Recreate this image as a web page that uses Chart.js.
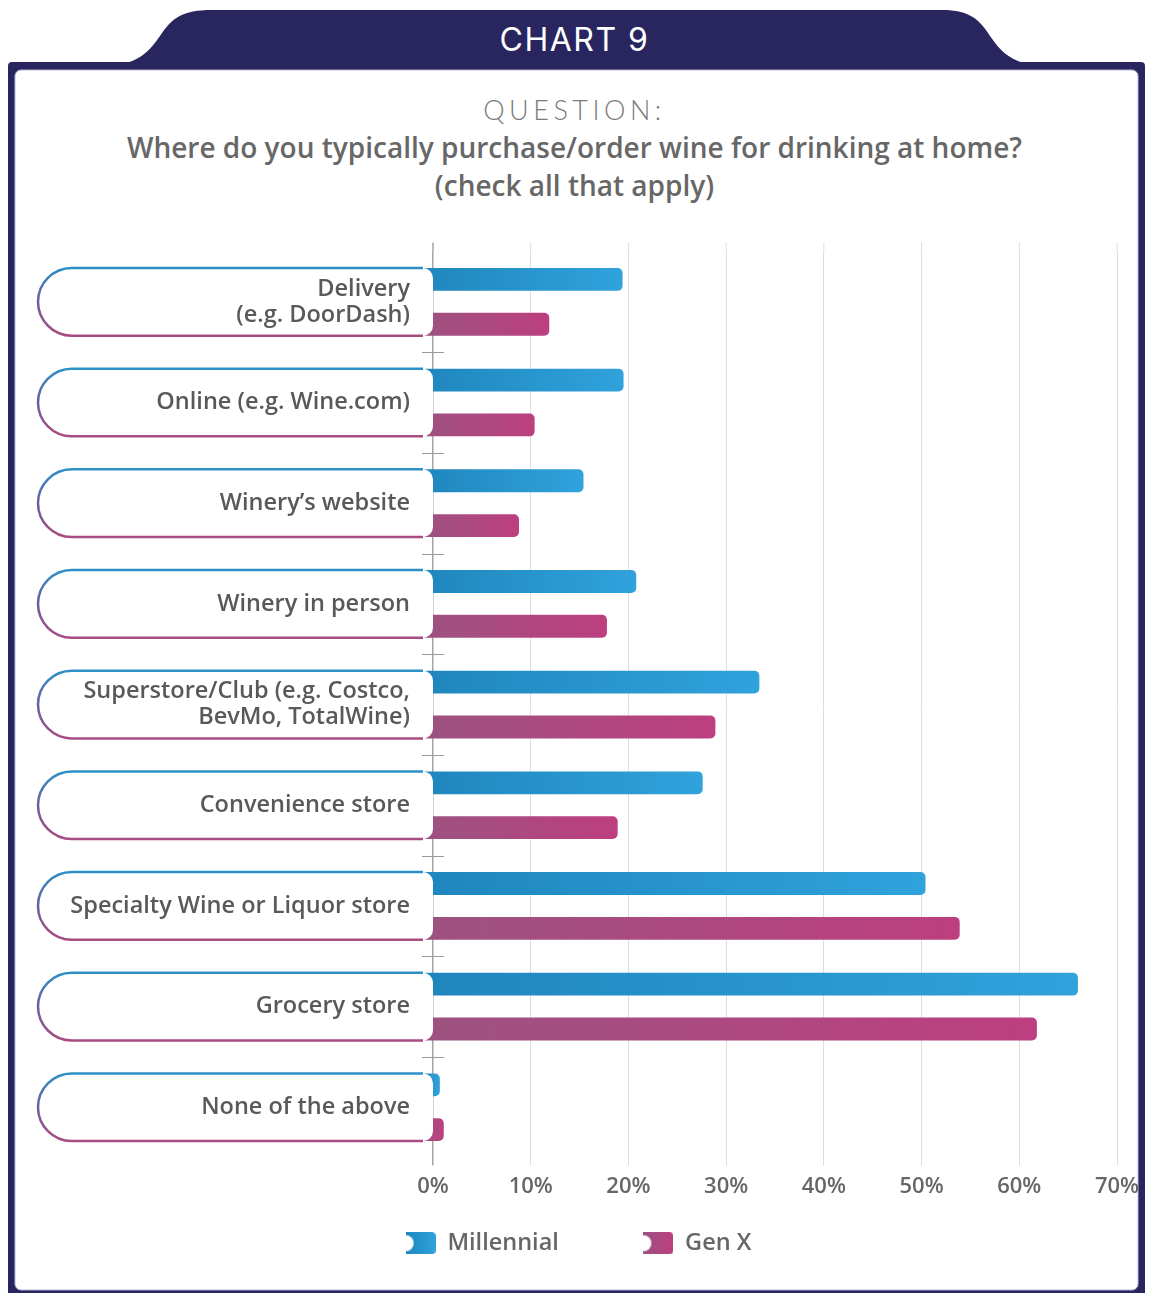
<!DOCTYPE html>
<html>
<head>
<meta charset="utf-8">
<script src="https://cdn.jsdelivr.net/npm/chart.js@4.4.1/dist/chart.umd.min.js"></script>
<style>
  body { margin:0; width:1149px; height:1293px; overflow:hidden; background:#fff; position:relative; font-family:"Open Sans", sans-serif; }
  #frame { position:absolute; left:0; top:0; }
  .tabtitle { position:absolute; left:0; width:1149px; top:18px; text-align:center; color:#fff; font-family:Inter, sans-serif; font-weight:400; font-size:32px; line-height:44px; letter-spacing:1.5px; }
  .qhead { position:absolute; left:0; width:1149px; top:91px; text-align:center; color:#7a7a7a; font-family:Lato, sans-serif; font-weight:300; font-size:27px; line-height:38px; letter-spacing:4.5px; }
  .qtext { position:absolute; left:0; width:1149px; top:128px; text-align:center; color:#676767; font-weight:600; font-size:28px; line-height:38px; }
  #wrap { position:absolute; left:0; top:230px; width:1149px; height:1063px; }
</style>
</head>
<body>
<svg id="frame" width="1149" height="1293">
  <path d="M108,66 C140,64 150,50 160,36 C172,18 182,10 212,10 L942,10 C970,10 980,20 990,36 C1000,50 1010,64 1042,66 Z" fill="#29265f"/>
  <rect x="8" y="62" width="1137" height="1250" rx="4" fill="#29265f"/>
  <rect x="15" y="70" width="1123" height="1220" rx="6" fill="#fff" stroke="#b9b5d9" stroke-width="1"/>
</svg>
<div class="tabtitle">CHART 9</div>
<div class="qhead">QUESTION:</div>
<div class="qtext">Where do you typically purchase/order wine for drinking at home?<br>(check all that apply)</div>
<div id="wrap"><canvas id="myChart"></canvas></div>

<script>
const categories = [
  ['Delivery', '(e.g. DoorDash)'],
  ['Online (e.g. Wine.com)'],
  ['Winery\u2019s website'],
  ['Winery in person'],
  ['Superstore/Club (e.g. Costco,', 'BevMo, TotalWine)'],
  ['Convenience store'],
  ['Specialty Wine or Liquor store'],
  ['Grocery store'],
  ['None of the above']
];
const millennial = [19.4, 19.5, 15.4, 20.8, 33.4, 27.6, 50.4, 66.0, 0.7];
const genX = [11.9, 10.4, 8.8, 17.8, 28.9, 18.9, 53.9, 61.8, 1.1];
const seriesNames = ['Millennial', 'Gen X'];
const xTicks = [0, 10, 20, 30, 40, 50, 60, 70];

const blueCols = ['#1f86bd', '#30a2dc'];
const pinkCols = ['#9c5281', '#bd3f80'];
const barBase = -1.2; // bars start a bit behind the label pill

function barFill(ctx, cols) {
  const chart = ctx.chart;
  if (!chart.chartArea || ctx.type !== 'data') return cols[1];
  const xs = chart.scales.x;
  const x0 = xs.getPixelForValue(barBase);
  const x1 = xs.getPixelForValue(ctx.raw);
  if (!isFinite(x0) || !isFinite(x1) || x1 - x0 < 1) return cols[0];
  const g = chart.ctx.createLinearGradient(x0, 0, x1, 0);
  g.addColorStop(0, cols[0]);
  g.addColorStop(1, cols[1]);
  return g;
}

function legendIcon(cols) {
  const c = document.createElement('canvas');
  c.width = 30; c.height = 22;
  const g = c.getContext('2d');
  const grad = g.createLinearGradient(0, 0, 30, 0);
  grad.addColorStop(0, cols[0]);
  grad.addColorStop(1, cols[1]);
  g.fillStyle = grad;
  g.beginPath();
  g.moveTo(0, 0);
  g.lineTo(26, 0);
  g.arcTo(30, 0, 30, 4, 4);
  g.lineTo(30, 18);
  g.arcTo(30, 22, 26, 22, 4);
  g.lineTo(0, 22);
  g.closePath();
  g.fill();
  // notch on the left
  g.globalCompositeOperation = 'destination-out';
  g.beginPath();
  g.arc(0, 11, 8, 0, Math.PI * 2);
  g.fill();
  return c;
}

const labelFont = '600 23.5px "Open Sans"';

const pillPlugin = {
  id: 'pills',
  beforeDatasetsDraw(chart) {
    // grid lines poke a little above the plot
    const {ctx, chartArea, scales} = chart;
    ctx.save();
    scales.x.ticks.forEach(t => {
      const x = scales.x.getPixelForValue(t.value);
      ctx.strokeStyle = t.value === 0 ? '#a5a5a5' : '#dedede';
      ctx.lineWidth = t.value === 0 ? 1.5 : 1;
      ctx.beginPath();
      ctx.moveTo(x, chartArea.top - 9);
      ctx.lineTo(x, chartArea.top);
      ctx.stroke();
    });
    ctx.restore();
  },
  afterDatasetsDraw(chart) {
    const {ctx, scales} = chart;
    const m0 = chart.getDatasetMeta(0), m1 = chart.getDatasetMeta(1);
    const right = scales.x.getPixelForValue(0);
    const left = right - 395;
    ctx.save();
    chart.data.labels.forEach((lab, i) => {
      const b0 = m0.data[i], b1 = m1.data[i];
      const top = b0.y - b0.height / 2;
      const bot = b1.y + b1.height / 2;
      const r = (bot - top) / 2;
      const rr = 10;
      ctx.beginPath();
      ctx.moveTo(left + r, top);
      ctx.lineTo(right - rr, top);
      ctx.arcTo(right, top, right, top + rr, rr);
      ctx.lineTo(right, bot - rr);
      ctx.arcTo(right, bot, right - rr, bot, rr);
      ctx.lineTo(left + r, bot);
      ctx.arc(left + r, top + r, r, Math.PI / 2, Math.PI * 1.5);
      ctx.closePath();
      ctx.fillStyle = '#fff';
      ctx.fill();

      const g = ctx.createLinearGradient(0, top, 0, bot);
      g.addColorStop(0, '#2d8fc7');
      g.addColorStop(0.5, '#6a5f9c');
      g.addColorStop(1, '#a84c82');
      ctx.strokeStyle = g;
      ctx.lineWidth = 2.5;
      ctx.beginPath();
      ctx.moveTo(right - rr, top);
      ctx.lineTo(left + r, top);
      ctx.arc(left + r, top + r, r, Math.PI * 1.5, Math.PI / 2, true);
      ctx.lineTo(right - rr, bot);
      ctx.stroke();

      ctx.fillStyle = '#595959';
      ctx.font = labelFont;
      ctx.textAlign = 'right';
      ctx.textBaseline = 'middle';
      const lines = Array.isArray(lab) ? lab : [lab];
      const cy = (top + bot) / 2;
      lines.forEach((t, k) => {
        ctx.fillText(t, right - 23, cy + (k - (lines.length - 1) / 2) * 26);
      });
    });

    // separator ticks between categories
    ctx.strokeStyle = '#9a9a9a';
    ctx.lineWidth = 1;
    for (let i = 0; i < chart.data.labels.length - 1; i++) {
      const y = Math.round((scales.y.getPixelForValue(i) + scales.y.getPixelForValue(i + 1)) / 2) + 0.5;
      ctx.beginPath();
      ctx.moveTo(right - 11, y);
      ctx.lineTo(right + 11, y);
      ctx.stroke();
    }
    ctx.restore();
  }
};

const dataSource = {
  labels: categories,
  datasets: [{
    label: seriesNames[0],
    data: millennial,
    backgroundColor: ctx => barFill(ctx, blueCols),
    pointStyle: legendIcon(blueCols),
    borderRadius: 5,
    borderSkipped: false,
    base: barBase,
    clip: false,
    categoryPercentage: 0.89,
    barPercentage: 0.51
  }, {
    label: seriesNames[1],
    data: genX,
    backgroundColor: ctx => barFill(ctx, pinkCols),
    pointStyle: legendIcon(pinkCols),
    borderRadius: 5,
    borderSkipped: false,
    base: barBase,
    clip: false,
    categoryPercentage: 0.89,
    barPercentage: 0.51
  }]
};

const padLeft = 40;

const config = {
  type: 'bar',
  data: dataSource,
  plugins: [pillPlugin],
  options: {
    indexAxis: 'y',
    responsive: true,
    maintainAspectRatio: false,
    animation: false,
    layout: { padding: { left: padLeft, right: 32, top: 21.5, bottom: 28 } },
    plugins: {
      tooltip: { enabled: false },
      legend: {
        position: 'bottom',
        labels: {
          usePointStyle: true,
          pointStyleWidth: 30,
          boxHeight: 22,
          padding: 23.5,
          color: '#666',
          font: { family: 'Open Sans', size: 23.5, weight: '600' },
          generateLabels(chart) {
            return chart.data.datasets.map((ds, i) => ({
              text: i === 0 ? ds.label + '\u00A0\u00A0\u00A0\u00A0\u00A0\u00A0\u00A0\u00A0\u00A0\u00A0' : ds.label,
              pointStyle: ds.pointStyle,
              fillStyle: 'transparent',
              strokeStyle: 'transparent',
              lineWidth: 0,
              hidden: false,
              datasetIndex: i,
              fontColor: '#666'
            }));
          }
        }
      }
    },
    scales: {
      x: {
        min: 0,
        max: 70,
        afterBuildTicks: axis => { axis.ticks = xTicks.map(v => ({ value: v })); },
        ticks: {
          callback: v => v + '%',
          color: '#666',
          padding: 8,
          font: { family: 'Open Sans', size: 22, weight: '600' }
        },
        grid: {
          color: ctx => ctx.tick && ctx.tick.value === 0 ? '#a5a5a5' : '#dedede',
          lineWidth: ctx => ctx.tick && ctx.tick.value === 0 ? 1.5 : 1,
          tickLength: 8
        },
        border: { display: false }
      },
      y: {
        display: true,
        ticks: { display: false },
        grid: { display: false, drawTicks: false },
        border: { display: false },
        afterFit: axis => { axis.width = 433 - padLeft; }
      }
    }
  }
};

const myChart = new Chart(document.getElementById('myChart'), config);
</script>
</body>
</html>
